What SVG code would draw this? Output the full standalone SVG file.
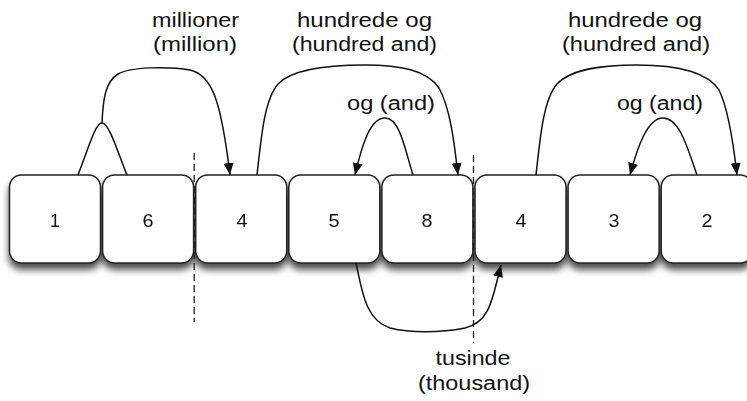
<svg xmlns="http://www.w3.org/2000/svg" width="747" height="401" viewBox="0 0 747 401">
  <style>
    .box { fill: #ffffff; stroke: #222222; stroke-width: 1.5; }
    .digit { font-family: "Liberation Sans", Arial, Helvetica, sans-serif; font-size: 19px; fill: #111111; text-anchor: middle; }
    .label { font-family: "Liberation Sans", Arial, Helvetica, sans-serif; font-size: 20px; fill: #111111; text-anchor: middle; }
    .link { fill: none; stroke: #111111; stroke-width: 1.5; }
    .arrow { marker-end: url(#head); }
    .divider { fill: none; stroke: #222222; stroke-width: 1.3; stroke-dasharray: 7 4; }
  </style>
  <defs>
    <filter id="shadow" x="-10%" y="-10%" width="120%" height="140%">
      <feDropShadow dx="0" dy="6" stdDeviation="3.5" flood-color="#000000" flood-opacity="0.7"/>
    </filter>
    <marker id="head" viewBox="0 0 12 10" refX="12" refY="5" markerWidth="12" markerHeight="10" markerUnits="userSpaceOnUse" orient="auto">
      <path d="M0,0 L12,5 L0,10 z" fill="#111111"/>
    </marker>
  </defs>

  <rect width="747" height="401" fill="#ffffff"/>

  <!-- digit cells -->
  <g filter="url(#shadow)">
    <g id="d1"><rect class="box" x="9.5" y="175" width="91" height="88" rx="12"/><text class="digit" x="55" y="227" textLength="10" lengthAdjust="spacingAndGlyphs">1</text></g>
    <g id="d6"><rect class="box" x="102.6" y="175" width="91" height="88" rx="12"/><text class="digit" x="148" y="227" textLength="11" lengthAdjust="spacingAndGlyphs">6</text></g>
    <g id="d4a"><rect class="box" x="195.7" y="175" width="91" height="88" rx="12"/><text class="digit" x="242" y="227" textLength="11" lengthAdjust="spacingAndGlyphs">4</text></g>
    <g id="d5"><rect class="box" x="288.8" y="175" width="91" height="88" rx="12"/><text class="digit" x="334" y="227" textLength="11" lengthAdjust="spacingAndGlyphs">5</text></g>
    <g id="d8"><rect class="box" x="381.9" y="175" width="91" height="88" rx="12"/><text class="digit" x="427" y="227" textLength="11" lengthAdjust="spacingAndGlyphs">8</text></g>
    <g id="d4b"><rect class="box" x="475" y="175" width="91" height="88" rx="12"/><text class="digit" x="521" y="227" textLength="11" lengthAdjust="spacingAndGlyphs">4</text></g>
    <g id="d3"><rect class="box" x="568.1" y="175" width="91" height="88" rx="12"/><text class="digit" x="614" y="227" textLength="11" lengthAdjust="spacingAndGlyphs">3</text></g>
    <g id="d2"><rect class="box" x="661.2" y="175" width="91" height="88" rx="12"/><text class="digit" x="707" y="227" textLength="11" lengthAdjust="spacingAndGlyphs">2</text></g>
  </g>

  <!-- group boundaries -->
  <g id="dividers">
    <line class="divider" x1="194.2" y1="153" x2="194.2" y2="322"/>
    <line class="divider" x1="473.5" y1="155" x2="473.5" y2="343"/>
  </g>

  <!-- connectors -->
  <g id="connectors">
    <path class="link" d="M78,175 C88,150 95,123 102,123 C109,123 117,150 127,175"/>
    <path class="link arrow" d="M102,123 C103,100 105,82 118,74 C130,67 168,66 190,70 C212,75 221,100 230,175"/>
    <path class="link arrow" d="M257,175 C261,140 264,100 278,84 C293,68 330,65 365,65 C400,65 427,70 439,88 C450,108 454,140 458,175"/>
    <path class="link arrow" d="M413,175 C405,150 400,118 385,118 C370,118 362,145 355,175"/>
    <path class="link arrow" d="M536,175 C540,140 543,100 557,84 C572,68 605,65 637,65 C672,65 706,70 719,90 C728,108 733,140 737,175"/>
    <path class="link arrow" d="M697,175 C688,150 680,118 663,118 C648,118 638,145 630,175"/>
    <path class="link arrow" d="M356,263 C362,290 365,320 390,328 C410,333 440,333 465,328 C490,322 492,300 501,265"/>
  </g>

  <!-- connector labels -->
  <g id="labels">
    <text class="label" x="195.5" y="27" textLength="87" lengthAdjust="spacingAndGlyphs">millioner</text>
    <text class="label" x="195" y="51" textLength="84" lengthAdjust="spacingAndGlyphs">(million)</text>
    <text class="label" x="364.5" y="27" textLength="135" lengthAdjust="spacingAndGlyphs">hundrede og</text>
    <text class="label" x="364.5" y="51" textLength="145" lengthAdjust="spacingAndGlyphs">(hundred and)</text>
    <text class="label" x="391" y="110" textLength="88" lengthAdjust="spacingAndGlyphs">og (and)</text>
    <text class="label" x="635" y="27" textLength="134" lengthAdjust="spacingAndGlyphs">hundrede og</text>
    <text class="label" x="636" y="51" textLength="148" lengthAdjust="spacingAndGlyphs">(hundred and)</text>
    <text class="label" x="660" y="110" textLength="86" lengthAdjust="spacingAndGlyphs">og (and)</text>
    <text class="label" x="473" y="365" textLength="75" lengthAdjust="spacingAndGlyphs">tusinde</text>
    <text class="label" x="474" y="390" textLength="112" lengthAdjust="spacingAndGlyphs">(thousand)</text>
  </g>
</svg>
